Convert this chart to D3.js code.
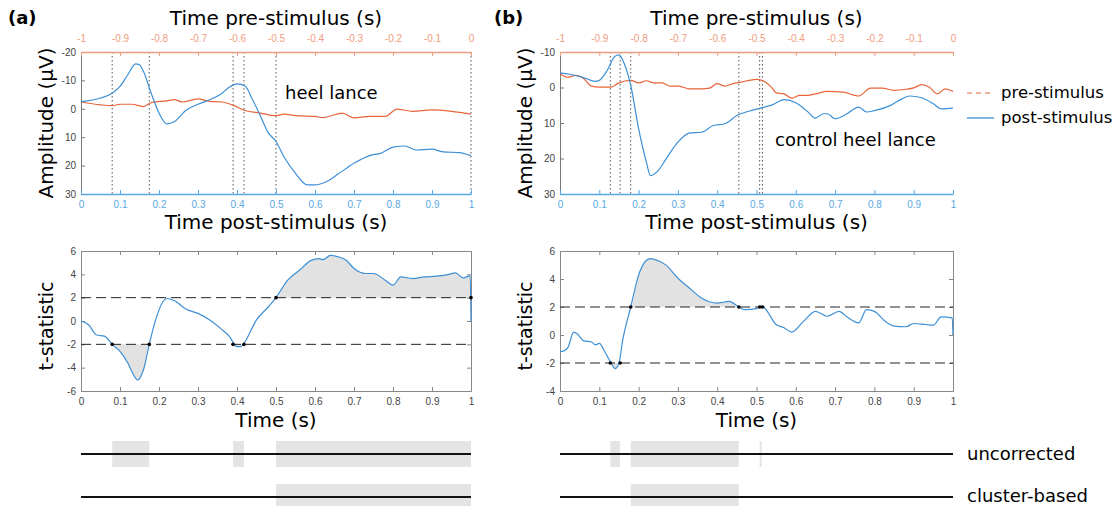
<!DOCTYPE html>
<html>
<meta charset='utf-8'>
<head>
<title>Heel lance ERP</title>
<script src='https://d3js.org/d3.v7.min.js'></script>
<style>
body { margin: 0; background: #fff; }
text { font-family: 'DejaVu Sans', sans-serif; }
.tick text { font-family: 'Liberation Sans', Arial, sans-serif; font-size: 10px; }
</style>
</head>
<body>
<svg id='fig' width='1118' height='506'></svg>
<script>
// ---- panel (a) heel lance ----
var postTimeA = [0,0.05,0.08,0.1,0.12,0.14,0.15,0.16,0.18,0.2,0.22,0.24,0.27,0.3,0.33,0.36,0.38,0.4,0.42,0.44,0.46,0.48,0.5,0.52,0.55,0.58,0.6,0.63,0.66,0.7,0.74,0.77,0.8,0.83,0.86,0.9,0.93,0.97,1.0]
var postAmpA  = [-2.5,-3.8,-5.5,-7.9,-12,-15.8,-15.5,-13.2,-5.5,1.5,5.3,4.5,0.4,-1.6,-3.2,-5.3,-7.6,-8.8,-8.1,-3.2,2.5,8.4,11.5,16.8,22.7,26.8,26.8,25.6,22.9,19.2,16.5,15.6,13.5,13.1,14.5,14.2,15.2,15.4,16.5]
var preTimeA = [-1,-0.95,-0.92,-0.9,-0.87,-0.84,-0.82,-0.78,-0.76,-0.74,-0.7,-0.67,-0.64,-0.61,-0.58,-0.54,-0.5,-0.48,-0.45,-0.4,-0.38,-0.35,-0.33,-0.3,-0.26,-0.22,-0.19,-0.15,-0.1,-0.05,0]
var preAmpA  = [-2.4,-1.4,-1.1,-1.6,-1.6,-0.8,-2.2,-2.8,-3.2,-2.4,-3.5,-2.6,-2.4,-1.3,0.6,1.5,2.4,1.9,2.4,2.7,3.1,2.1,1.5,3.2,2.7,2.7,0.1,0.9,0.4,0.9,1.9]
var tTimeA = [0,0.02,0.04,0.06,0.08,0.1,0.12,0.13,0.145,0.16,0.175,0.19,0.21,0.22,0.24,0.27,0.3,0.33,0.36,0.38,0.4,0.41,0.42,0.45,0.48,0.5,0.53,0.56,0.59,0.61,0.62,0.64,0.66,0.68,0.7,0.73,0.75,0.78,0.8,0.82,0.85,0.88,0.91,0.94,0.96,0.98,0.998,1.0]
var tStatA = [0,-0.34,-1.2,-1.3,-2.0,-2.6,-3.6,-4.3,-5.05,-4.2,-2.0,-0.06,1.65,1.93,1.73,1.0,0.65,0.08,-0.7,-1.3,-2.2,-2.2,-1.8,0.09,1.2,2.0,3.5,4.35,5.2,5.35,5.26,5.63,5.5,5.2,4.5,4.07,4.07,3.5,3.07,3.78,3.64,3.78,3.84,3.98,4.12,3.7,3.87,0]
var crossTimeA = [0.08,0.175,0.39,0.418,0.5,1.0]
var crossLevelA = [-2,-2,-2,-2,2,2]
var uncorrectedA = [[0.08,0.175],[0.39,0.418],[0.5,1.0]]
var clusterA = [[0.5,1.0]]

// ---- panel (b) control heel lance ----
var postTimeB = [0,0.03,0.06,0.09,0.1,0.12,0.14,0.15,0.16,0.18,0.2,0.22,0.23,0.25,0.27,0.3,0.33,0.36,0.39,0.42,0.45,0.48,0.51,0.54,0.57,0.6,0.63,0.65,0.67,0.68,0.7,0.73,0.76,0.78,0.8,0.84,0.87,0.89,0.92,0.95,0.97,1.0]
var postAmpB  = [-4.1,-3.6,-2.8,-1.7,-2.0,-4.8,-8.8,-9.2,-7.6,-0.6,11.6,21.1,24.8,23.4,20.1,15.4,12.8,12.6,10.7,10.2,7.9,6.7,5.8,4.9,3.4,4.3,6.8,8.6,7.4,7.4,8.8,7.4,5.5,6.9,6.5,5.1,3.2,2.4,2.9,4.6,6.0,5.8]
var preTimeB = [-1,-0.98,-0.96,-0.94,-0.92,-0.9,-0.87,-0.85,-0.82,-0.8,-0.78,-0.76,-0.74,-0.72,-0.7,-0.67,-0.64,-0.62,-0.6,-0.58,-0.56,-0.54,-0.5,-0.48,-0.46,-0.45,-0.43,-0.41,-0.39,-0.37,-0.35,-0.32,-0.28,-0.24,-0.21,-0.18,-0.15,-0.12,-0.1,-0.08,-0.06,-0.04,-0.02,0]
var preAmpB  = [-3.9,-2.9,-3.4,-2.5,-0.4,-0.1,-0.1,-1.3,-2.0,-1.3,-1.9,-1.3,-1.3,-0.4,-0.4,0.4,0.4,0.2,-1.1,-0.4,-1.1,-1.5,-2.3,-1.7,0.2,1.5,1.8,3.0,2.2,2.2,1.8,1.1,1.3,2.4,0.2,0.2,0.8,0.5,0.1,-0.8,-0.1,1.8,0.4,1.1]
var tTimeB = [0,0.01,0.02,0.035,0.045,0.06,0.08,0.09,0.1,0.115,0.13,0.14,0.15,0.16,0.18,0.2,0.22,0.23,0.25,0.27,0.3,0.33,0.36,0.4,0.43,0.455,0.47,0.5,0.51,0.52,0.55,0.57,0.59,0.62,0.65,0.68,0.71,0.73,0.76,0.78,0.8,0.83,0.85,0.88,0.9,0.93,0.95,0.97,0.998,1.0]
var tStatB = [-1.18,-1.13,-0.9,0.2,0.05,-0.42,-0.5,-0.7,-0.6,-1.25,-2.0,-2.4,-2.0,-0.3,2.0,4.28,5.34,5.46,5.3,4.99,4.05,3.34,2.64,2.28,2.4,2.0,1.81,1.88,2.05,1.93,0.75,0.52,0.21,0.99,1.69,1.34,1.69,1.3,0.87,1.81,1.69,0.92,0.64,0.59,0.82,0.75,0.7,1.3,1.22,0]
var crossTimeB = [0.128,0.153,0.18,0.455,0.508,0.515]
var crossLevelB = [-2,-2,2,2,2,2]
var uncorrectedB = [[0.128,0.153],[0.18,0.455],[0.508,0.513]]
var clusterB = [[0.18,0.455]]

var threshold = 2
var blue = '#3d8fd6', orange = '#e8643a'
var blueAxis = '#5aa8e2', orangeAxis = '#f09c80'

var svg = d3.select('#fig')

function zip(a, b) { return a.map(function(v, i) { return [v, b[i]] }) }

function styleAxis(g, color) {
    g.select('.domain').attr('stroke', color)
    g.selectAll('.tick line').attr('stroke', color)
    g.selectAll('.tick text').attr('fill', color)
}

function fmt(d) { return String(+d.toFixed(1)) }

function topPanel(o) {
    var x = d3.scaleLinear().domain([0, 1]).range([o.x0, o.x1])
    var xp = d3.scaleLinear().domain([-1, 0]).range([o.x0, o.x1])
    var y = d3.scaleLinear().domain(o.yDom).range([52, 194])
    var g = svg.append('g')

    // dotted markers at the threshold crossings
    g.selectAll('.vmark').data(o.marks).enter().append('line')
        .attr('x1', function(d) { return x(d) }).attr('x2', function(d) { return x(d) })
        .attr('y1', y.range()[0]).attr('y2', y.range()[1])
        .attr('stroke', '#555').attr('stroke-width', 1).attr('stroke-dasharray', '1.5,2.5')

    var ly = g.append('g').attr('transform', 'translate(' + o.x0 + ',0)')
        .call(d3.axisLeft(y).tickValues(o.yTicks).tickSize(-4).tickSizeOuter(0).tickPadding(5).tickFormat(fmt))
    styleAxis(ly, '#777')
    ly.selectAll('.tick text').attr('fill', '#444')

    var ax = g.append('g').attr('transform', 'translate(0,194)')
        .call(d3.axisBottom(x).ticks(10).tickSize(-4).tickSizeOuter(0).tickPadding(7).tickFormat(fmt))
    styleAxis(ax, blueAxis)
    ax.select('.domain').attr('stroke-width', 1.5)

    var at = g.append('g').attr('transform', 'translate(0,52)')
        .call(d3.axisTop(xp).ticks(10).tickSize(-4).tickSizeOuter(0).tickPadding(10).tickFormat(fmt))
    styleAxis(at, orangeAxis)
    at.select('.domain').attr('stroke-width', 1.5)

    var line = d3.line().curve(d3.curveMonotoneX)
    g.append('path').datum(zip(o.preT, o.preV))
        .attr('d', line.x(function(d) { return xp(d[0]) }).y(function(d) { return y(d[1]) }))
        .attr('fill', 'none').attr('stroke', orange).attr('stroke-width', 1.2)
    g.append('path').datum(zip(o.postT, o.postV))
        .attr('d', line.x(function(d) { return x(d[0]) }).y(function(d) { return y(d[1]) }))
        .attr('fill', 'none').attr('stroke', blue).attr('stroke-width', 1.2)

    var cx = (o.x0 + o.x1) / 2
    g.append('text').attr('x', cx).attr('y', 25).attr('text-anchor', 'middle')
        .attr('font-size', 20).text('Time pre-stimulus (s)')
    g.append('text').attr('x', cx).attr('y', 229).attr('text-anchor', 'middle')
        .attr('font-size', 20).text('Time post-stimulus (s)')
    g.append('text').attr('transform', 'translate(' + (o.x0 - 28) + ',123) rotate(-90)')
        .attr('text-anchor', 'middle').attr('font-size', 20).text('Amplitude (\u03bcV)')
    g.append('text').attr('x', o.labelX).attr('y', o.labelY)
        .attr('font-size', 18).text(o.label)
    g.append('text').attr('x', o.letterX).attr('y', 24)
        .attr('font-size', 18).attr('font-weight', 'bold').text(o.letter)
}

function statPanel(o) {
    var x = d3.scaleLinear().domain([0, 1]).range([o.x0, o.x1])
    var y = d3.scaleLinear().domain(o.yDom).range([391, 251])
    var g = svg.append('g')
    var pts = zip(o.t, o.v)

    var area = d3.area().curve(d3.curveMonotoneX).x(function(d) { return x(d[0]) })
    g.append('path').datum(pts)
        .attr('d', area.y0(y(threshold)).y1(function(d) { return y(Math.max(d[1], threshold)) }))
        .attr('fill', '#e2e2e2')
    g.append('path').datum(pts)
        .attr('d', area.y0(y(-threshold)).y1(function(d) { return y(Math.min(d[1], -threshold)) }))
        .attr('fill', '#e2e2e2')

    // box with inward ticks on all sides
    var ab = g.append('g').attr('transform', 'translate(0,391)')
        .call(d3.axisBottom(x).ticks(10).tickSize(-4).tickSizeOuter(0).tickPadding(7).tickFormat(fmt))
    var at = g.append('g').attr('transform', 'translate(0,251)')
        .call(d3.axisTop(x).ticks(10).tickSize(-4).tickSizeOuter(0).tickFormat(''))
    var al = g.append('g').attr('transform', 'translate(' + o.x0 + ',0)')
        .call(d3.axisLeft(y).ticks(6).tickSize(-4).tickSizeOuter(0).tickPadding(5).tickFormat(fmt))
    var ar = g.append('g').attr('transform', 'translate(' + o.x1 + ',0)')
        .call(d3.axisRight(y).ticks(6).tickSize(-4).tickSizeOuter(0).tickFormat(''))
    ;[ab, at, al, ar].forEach(function(a) { styleAxis(a, '#888') })
    ;[ab, al].forEach(function(a) { a.selectAll('.tick text').attr('fill', '#444') })

    g.selectAll('.thr').data([threshold, -threshold]).enter().append('line')
        .attr('x1', o.x0).attr('x2', o.x1)
        .attr('y1', function(d) { return y(d) }).attr('y2', function(d) { return y(d) })
        .attr('stroke', '#222').attr('stroke-width', 1).attr('stroke-dasharray', '10,5')

    g.append('path').datum(pts)
        .attr('d', d3.line().curve(d3.curveMonotoneX)
            .x(function(d) { return x(d[0]) }).y(function(d) { return y(d[1]) }))
        .attr('fill', 'none').attr('stroke', blue).attr('stroke-width', 1.2)

    g.selectAll('.dot').data(zip(o.crossT, o.crossV)).enter().append('circle')
        .attr('cx', function(d) { return x(d[0]) }).attr('cy', function(d) { return y(d[1]) })
        .attr('r', 1.8).attr('fill', '#000')

    var cx = (o.x0 + o.x1) / 2
    g.append('text').attr('x', cx).attr('y', 427).attr('text-anchor', 'middle')
        .attr('font-size', 20).text('Time (s)')
    g.append('text').attr('transform', 'translate(' + (o.x0 - 28) + ',326) rotate(-90)')
        .attr('text-anchor', 'middle').attr('font-size', 19).text('t-statistic')

    // significance rows
    var rows = [{y: 454, spans: o.unc}, {y: 497, spans: o.clu}]
    rows.forEach(function(r) {
        g.selectAll(null).data(r.spans).enter().append('rect')
            .attr('x', function(d) { return x(d[0]) })
            .attr('width', function(d) { return Math.max(1.5, x(d[1]) - x(d[0])) })
            .attr('y', r.y - 13).attr('height', 26).attr('fill', '#e4e4e4')
        g.append('line').attr('x1', o.x0).attr('x2', o.x1).attr('y1', r.y).attr('y2', r.y)
            .attr('stroke', '#111').attr('stroke-width', 1.8)
    })
}

topPanel({x0: 81, x1: 471, yDom: [-20, 30], yTicks: [-20, -10, 0, 10, 20, 30],
    postT: postTimeA, postV: postAmpA, preT: preTimeA, preV: preAmpA, marks: crossTimeA,
    label: 'heel lance', labelX: 285, labelY: 99, letter: '(a)', letterX: 8})
topPanel({x0: 560, x1: 953, yDom: [-10, 30], yTicks: [-10, 0, 10, 20, 30],
    postT: postTimeB, postV: postAmpB, preT: preTimeB, preV: preAmpB, marks: crossTimeB,
    label: 'control heel lance', labelX: 775, labelY: 146, letter: '(b)', letterX: 494})
statPanel({x0: 81, x1: 471, yDom: [-6, 6], t: tTimeA, v: tStatA,
    crossT: crossTimeA, crossV: crossLevelA, unc: uncorrectedA, clu: clusterA})
statPanel({x0: 560, x1: 953, yDom: [-4, 6], t: tTimeB, v: tStatB,
    crossT: crossTimeB, crossV: crossLevelB, unc: uncorrectedB, clu: clusterB})

// legend
var legend = [{name: 'pre-stimulus', color: orangeAxis, dash: '5,4', y: 93},
              {name: 'post-stimulus', color: blue, dash: null, y: 118}]
var lg = svg.selectAll('.legend').data(legend).enter().append('g')
lg.append('line').attr('x1', 967).attr('x2', 994)
    .attr('y1', function(d) { return d.y }).attr('y2', function(d) { return d.y })
    .attr('stroke', function(d) { return d.color }).attr('stroke-width', 1.3)
    .attr('stroke-dasharray', function(d) { return d.dash })
lg.append('text').attr('x', 1001).attr('y', function(d) { return d.y + 5 })
    .attr('font-size', 16.5).text(function(d) { return d.name })

svg.append('text').attr('x', 967).attr('y', 460).attr('font-size', 18).text('uncorrected')
svg.append('text').attr('x', 967).attr('y', 502).attr('font-size', 18).text('cluster-based')
</script>
</body>
</html>
